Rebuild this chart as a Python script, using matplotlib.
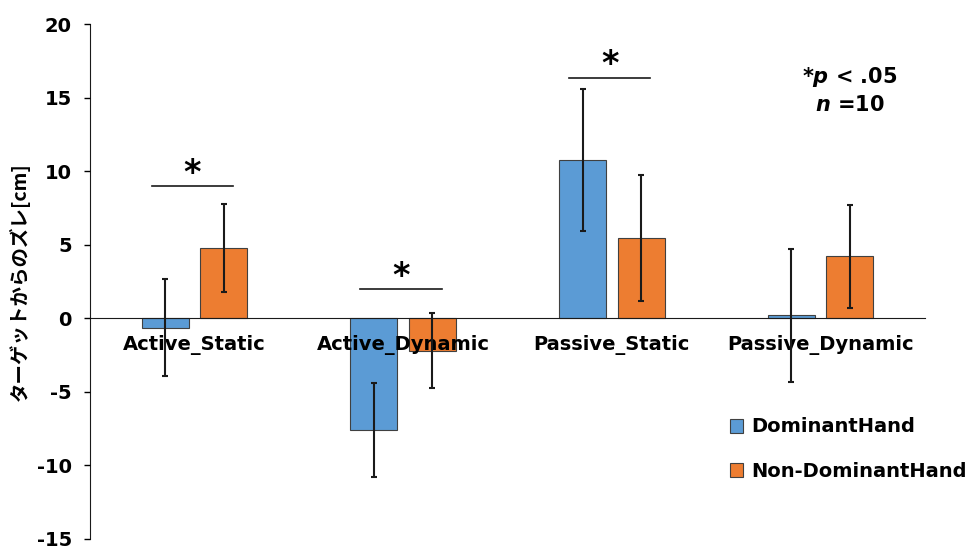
import matplotlib
matplotlib.use('Agg')
from matplotlib import pyplot as plt
import numpy as np

plt.rcParams['font.family'] = ['DejaVu Sans', 'Noto Sans CJK JP']
plt.rcParams['axes.unicode_minus'] = False
plt.rcParams['mathtext.fontset'] = 'dejavusans'

categories = ['Active_Static', 'Active_Dynamic', 'Passive_Static', 'Passive_Dynamic']
dominant = [-0.65, -7.6, 10.75, 0.2]
dominant_err = [3.3, 3.2, 4.85, 4.52]
non_dominant = [4.8, -2.2, 5.47, 4.2]
non_dominant_err = [3.0, 2.55, 4.28, 3.48]
series_names = ['DominantHand', 'Non-DominantHand']

# significance bars: category index, height
sig_idx = [0, 1, 2]
sig_y = [9.0, 2.0, 16.35]

fig = plt.figure(figsize=(9.76, 5.5), dpi=100)
ax = fig.add_axes([90 / 976, 1 - 539 / 550, 835 / 976, 515 / 550])

x = np.arange(len(categories))
w = 0.225
off = 0.14
b1 = ax.bar(x - off, dominant, w, color='#5B9BD5', edgecolor='#404040', linewidth=0.8,
            label=series_names[0], zorder=2)
b2 = ax.bar(x + off, non_dominant, w, color='#ED7D31', edgecolor='#404040', linewidth=0.8,
            label=series_names[1], zorder=2)
ax.errorbar(x - off, dominant, yerr=dominant_err, fmt='none', ecolor='#1a1a1a',
            elinewidth=1.5, capsize=2.5, capthick=1.5, zorder=3)
ax.errorbar(x + off, non_dominant, yerr=non_dominant_err, fmt='none', ecolor='#1a1a1a',
            elinewidth=1.5, capsize=2.5, capthick=1.5, zorder=3)

for i, yy in zip(sig_idx, sig_y):
    ax.plot([i - 0.205, i + 0.185], [yy, yy], color='#1a1a1a', lw=1.2)
    ax.text(i - 0.01, yy - 0.25, '*', ha='center', va='bottom', fontsize=24,
            fontweight='bold')

ax.set_xlim(-0.5, 3.5)
ax.set_ylim(-15, 20)
ax.spines['bottom'].set_position(('data', 0))
ax.spines['top'].set_visible(False)
ax.spines['right'].set_visible(False)
ax.spines['left'].set_color('#1a1a1a')
ax.spines['bottom'].set_color('#1a1a1a')
ax.set_axisbelow(False)
ax.set_yticks(np.arange(-15, 21, 5))
ax.set_xticks(x)
ax.set_xticklabels(categories, fontsize=14, fontweight='bold')
ax.tick_params(axis='x', length=0, pad=12)
ax.tick_params(axis='y', length=4, width=1, direction='out', pad=9, labelsize=14)
for lbl in ax.get_yticklabels():
    lbl.set_fontweight('bold')
ax.set_ylabel('ターゲットからのズレ[cm]', fontsize=14, family='Noto Sans CJK JP',
              fontweight='bold')
ax.yaxis.set_label_coords(-0.072, 0.5)

ax.text(0.91, 0.886, r'*$\boldsymbol{p}$ < .05', transform=ax.transAxes, ha='center',
        fontsize=15, fontweight='bold')
ax.text(0.91, 0.832, r'$\boldsymbol{n}$ =10', transform=ax.transAxes, ha='center',
        fontsize=15, fontweight='bold')

fig.legend(handles=[b1, b2], loc='upper left', bbox_to_anchor=(712 / 976, 1 - 400 / 550),
           frameon=False, prop={'size': 14, 'weight': 'bold'}, handlelength=0.7,
           handleheight=0.7, labelspacing=1.3, handletextpad=0.4)

fig.savefig('out.png', dpi=100)
